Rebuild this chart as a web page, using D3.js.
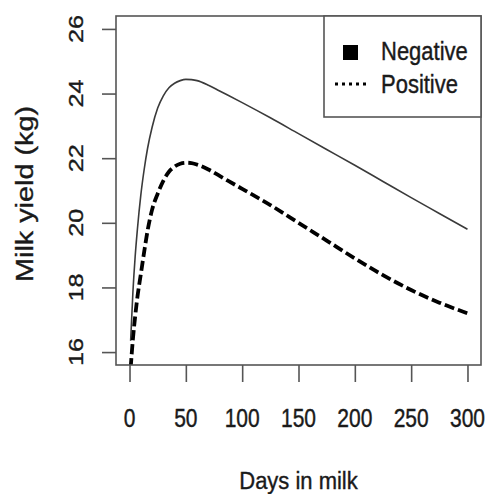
<!DOCTYPE html>
<html>
<head>
<meta charset="utf-8">
<script src="https://cdn.jsdelivr.net/npm/d3@7"></script>
<style>
  html, body { margin: 0; padding: 0; background: #fff; }
  svg { display: block; font-family: "Liberation Sans", Arial, Helvetica, sans-serif; }
</style>
</head>
<body>
<svg id="chart" width="488" height="494"></svg>
<script>
// ---- data ----
const days = [1, 3, 5, 7, 10, 13, 16, 20, 25, 30, 35, 40, 45, 50, 55, 60, 70, 80, 100, 125, 150, 175, 200, 225, 250, 275, 300];
const negativeYield = [16.35, 17.85, 18.95, 19.8, 20.85, 21.65, 22.3, 22.95, 23.55, 23.93, 24.18, 24.32, 24.4, 24.44, 24.43, 24.4, 24.26, 24.08, 23.72, 23.25, 22.76, 22.27, 21.78, 21.28, 20.78, 20.29, 19.8];
const positiveYield = [15.5, 16.4, 17.1, 17.7, 18.4, 19.1, 19.75, 20.4, 20.9, 21.3, 21.58, 21.74, 21.83, 21.86, 21.85, 21.8, 21.65, 21.45, 21.05, 20.55, 20.0, 19.45, 18.9, 18.38, 17.92, 17.53, 17.2];
const xTicks = [0, 50, 100, 150, 200, 250, 300];
const yTicks = [16, 18, 20, 22, 24, 26];
const legendLabels = ["Negative", "Positive"];
const xTitle = "Days in milk";
const yTitle = "Milk yield (kg)";

// ---- layout ----
const svg = d3.select("#chart");
const plot = { left: 116, right: 481, top: 16, bottom: 365 };
const x = d3.scaleLinear().domain([-12, 312]).range([plot.left, plot.right]);
const y = d3.scaleLinear().domain([15.6, 26.4]).range([plot.bottom, plot.top]);
const axisColor = "#555";
const textColor = "#1a1a1a";
const vStretch = 1.2;

function styleText(sel, size) {
  return sel.attr("font-size", size).attr("fill", textColor)
    .attr("stroke", textColor).attr("stroke-width", 0.35);
}

svg.append("defs").append("clipPath").attr("id", "plotclip")
  .append("rect").attr("x", plot.left).attr("y", plot.top)
  .attr("width", plot.right - plot.left).attr("height", plot.bottom - plot.top);

// ---- lines ----
const negData = days.map((d, i) => [d, negativeYield[i]]);
const posData = days.map((d, i) => [d, positiveYield[i]]);
const line = d3.line().x(d => x(d[0])).y(d => y(d[1])).curve(d3.curveMonotoneX);

const g = svg.append("g").attr("clip-path", "url(#plotclip)");
g.append("path").datum(negData).attr("d", line)
  .attr("fill", "none").attr("stroke", "#3a3a3a").attr("stroke-width", 1.6);
g.append("path").datum(posData).attr("d", line)
  .attr("fill", "none").attr("stroke", "#000").attr("stroke-width", 3.8)
  .attr("stroke-dasharray", "10,4");

// ---- box ----
svg.append("rect").attr("x", plot.left).attr("y", plot.top)
  .attr("width", plot.right - plot.left).attr("height", plot.bottom - plot.top)
  .attr("fill", "none").attr("stroke", axisColor).attr("stroke-width", 1.6);

// ---- x axis ----
const xAxis = d3.axisBottom(x).tickValues(xTicks).tickSize(17).tickFormat("");
const xg = svg.append("g").attr("transform", `translate(0,${plot.bottom})`).call(xAxis);
xg.select(".domain").remove();
xg.selectAll(".tick line").attr("stroke", axisColor).attr("stroke-width", 1.6);
xTicks.forEach(v => {
  styleText(svg.append("text")
    .attr("transform", `translate(${x(v)},427) scale(1,${vStretch})`)
    .attr("text-anchor", "middle"), 21)
    .text(String(v));
});

// ---- y axis ----
const yAxis = d3.axisLeft(y).tickValues(yTicks).tickSize(14).tickFormat("");
const yg = svg.append("g").attr("transform", `translate(${plot.left},0)`).call(yAxis);
yg.select(".domain").remove();
yg.selectAll(".tick line").attr("stroke", axisColor).attr("stroke-width", 1.6);
yTicks.forEach(v => {
  styleText(svg.append("text")
    .attr("transform", `translate(83,${y(v)}) scale(1,${vStretch}) rotate(-90)`)
    .attr("text-anchor", "middle"), 21)
    .text(String(v));
});

// ---- titles ----
styleText(svg.append("text")
  .attr("transform", `translate(${(plot.left + plot.right) / 2},489) scale(1,1.1)`)
  .attr("text-anchor", "middle"), 22)
  .text(xTitle);
styleText(svg.append("text")
  .attr("transform", `translate(33,194) scale(1,${vStretch}) rotate(-90)`)
  .attr("text-anchor", "middle"), 24)
  .text(yTitle);

// ---- legend ----
const lg = svg.append("g");
lg.append("rect").attr("x", 324).attr("y", plot.top).attr("width", plot.right - 324).attr("height", 101)
  .attr("fill", "#fff").attr("stroke", axisColor).attr("stroke-width", 1.6);
lg.append("rect").attr("x", 343).attr("y", 45).attr("width", 15).attr("height", 15).attr("fill", "#000");
lg.append("line").attr("x1", 335).attr("x2", 369).attr("y1", 84).attr("y2", 84)
  .attr("stroke", "#000").attr("stroke-width", 3).attr("stroke-dasharray", "3,4");
legendLabels.forEach((t, i) => {
  styleText(lg.append("text")
    .attr("transform", `translate(381,${i === 0 ? 60 : 93}) scale(1,${vStretch})`), 22)
    .text(t);
});
</script>
</body>
</html>
